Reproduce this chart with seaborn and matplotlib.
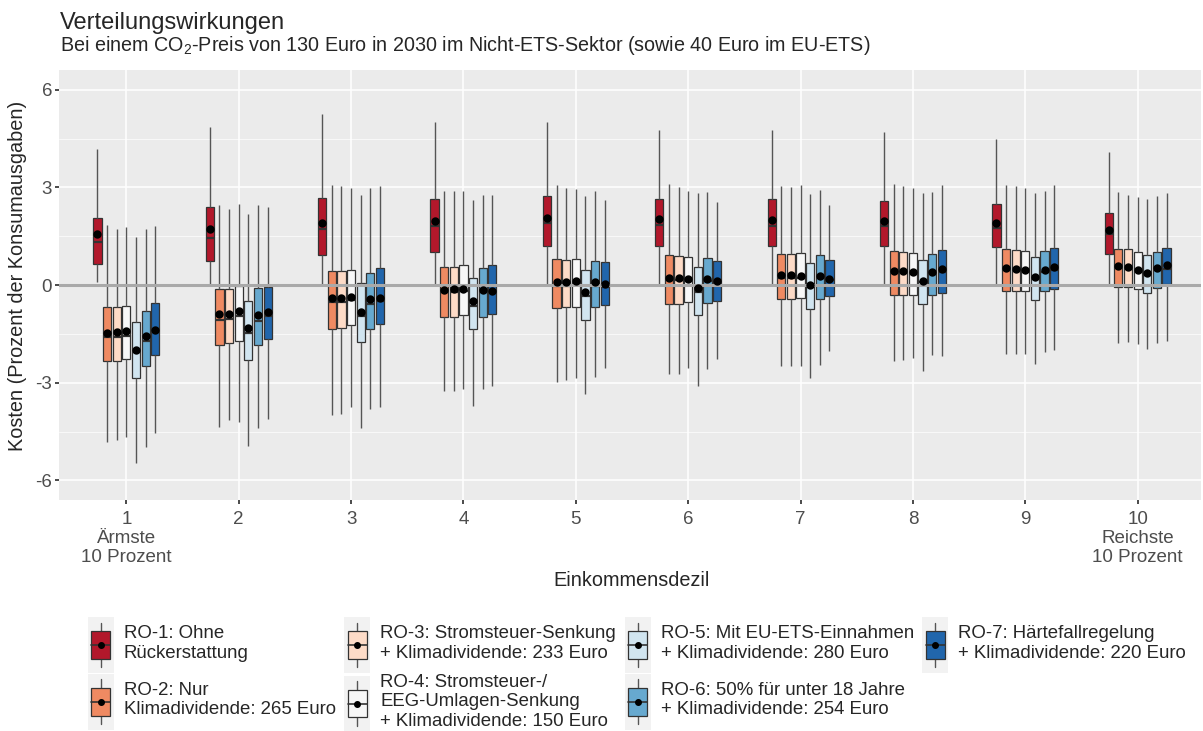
import numpy as np
import pandas as pd
import seaborn as sns
import matplotlib.pyplot as plt
from matplotlib.patches import Rectangle, Patch
from matplotlib.lines import Line2D
from matplotlib.legend_handler import HandlerBase
from matplotlib.ticker import MultipleLocator

# deciles and scenarios
deciles = [str(i) for i in range(1, 11)]
decile_labels = ["1\nÄrmste\n10 Prozent", "2", "3", "4", "5", "6", "7", "8", "9",
                 "10\nReichste\n10 Prozent"]
scenarios = ["RO-1", "RO-2", "RO-3", "RO-4", "RO-5", "RO-6", "RO-7"]
legend_labels = [
    "RO-1: Ohne\nRückerstattung",
    "RO-2: Nur\nKlimadividende: 265 Euro",
    "RO-3: Stromsteuer-Senkung\n+ Klimadividende: 233 Euro",
    "RO-4: Stromsteuer-/\nEEG-Umlagen-Senkung\n+ Klimadividende: 150 Euro",
    "RO-5: Mit EU-ETS-Einnahmen\n+ Klimadividende: 280 Euro",
    "RO-6: 50% für unter 18 Jahre\n+ Klimadividende: 254 Euro",
    "RO-7: Härtefallregelung\n+ Klimadividende: 220 Euro",
]
colors = ["#B2182B", "#EF8A62", "#FDDBC7", "#F7F7F7", "#D1E5F0", "#67A9CF", "#2166AC"]

# box statistics per scenario (rows) and decile (columns)
whisker_high = [
    [4.18, 4.84, 5.25, 5.00, 5.00, 4.77, 4.77, 4.69, 4.50, 4.08],
    [1.84, 2.46, 3.08, 2.90, 3.06, 3.09, 3.03, 3.09, 3.07, 2.86],
    [1.73, 2.35, 3.04, 2.90, 2.99, 3.02, 3.00, 3.03, 3.03, 2.78],
    [1.78, 2.50, 2.98, 2.88, 2.95, 2.88, 3.06, 2.97, 2.97, 2.71],
    [1.48, 2.19, 2.76, 2.61, 2.73, 2.83, 2.81, 2.83, 2.83, 2.63],
    [1.71, 2.46, 2.97, 2.78, 2.88, 2.85, 2.93, 2.87, 2.90, 2.73],
    [1.81, 2.41, 3.05, 2.78, 2.61, 2.56, 2.45, 3.07, 3.06, 2.83],
]
q3 = [
    [2.07, 2.41, 2.66, 2.65, 2.75, 2.65, 2.65, 2.59, 2.50, 2.22],
    [-0.67, -0.11, 0.42, 0.57, 0.80, 0.92, 0.97, 1.05, 1.10, 1.12],
    [-0.67, -0.11, 0.42, 0.57, 0.78, 0.88, 0.95, 1.02, 1.08, 1.10],
    [-0.65, -0.04, 0.46, 0.61, 0.80, 0.86, 0.98, 0.98, 1.06, 1.02],
    [-1.14, -0.50, 0.06, 0.23, 0.47, 0.57, 0.67, 0.77, 0.86, 0.92],
    [-0.80, -0.09, 0.36, 0.52, 0.75, 0.82, 0.92, 0.97, 1.05, 1.03],
    [-0.56, -0.05, 0.52, 0.62, 0.71, 0.75, 0.77, 1.08, 1.14, 1.14],
]
median = [
    [1.31, 1.44, 1.73, 1.81, 1.90, 1.85, 1.81, 1.80, 1.76, 1.56],
    [-1.60, -1.06, -0.53, -0.22, -0.02, 0.15, 0.23, 0.39, 0.45, 0.52],
    [-1.60, -1.04, -0.53, -0.22, -0.02, 0.15, 0.23, 0.39, 0.43, 0.50],
    [-1.55, -0.96, -0.45, -0.17, 0.00, 0.18, 0.23, 0.35, 0.42, 0.42],
    [-2.06, -1.48, -0.94, -0.63, -0.35, -0.22, -0.07, 0.10, 0.18, 0.30],
    [-1.73, -1.09, -0.58, -0.22, -0.02, 0.12, 0.22, 0.33, 0.40, 0.45],
    [-1.45, -0.94, -0.50, -0.22, -0.05, 0.08, 0.15, 0.40, 0.45, 0.50],
]
q1 = [
    [0.66, 0.75, 0.92, 1.03, 1.19, 1.20, 1.19, 1.19, 1.17, 0.97],
    [-2.34, -1.83, -1.35, -0.97, -0.71, -0.58, -0.43, -0.31, -0.18, -0.07],
    [-2.34, -1.78, -1.32, -0.97, -0.68, -0.58, -0.43, -0.31, -0.18, -0.07],
    [-2.26, -1.71, -1.24, -0.92, -0.66, -0.51, -0.41, -0.31, -0.19, -0.12],
    [-2.85, -2.29, -1.74, -1.35, -1.06, -0.91, -0.73, -0.59, -0.45, -0.24],
    [-2.47, -1.83, -1.35, -0.97, -0.68, -0.56, -0.43, -0.29, -0.19, -0.10],
    [-2.16, -1.65, -1.21, -0.89, -0.60, -0.48, -0.35, -0.24, -0.12, 0.03],
]
whisker_low = [
    [0.08, 0.00, 0.02, 0.02, 0.02, 0.02, 0.02, 0.02, 0.02, 0.02],
    [-4.81, -4.36, -4.00, -3.26, -2.98, -2.72, -2.49, -2.34, -2.11, -1.78],
    [-4.77, -4.15, -3.97, -3.24, -2.91, -2.72, -2.47, -2.31, -2.11, -1.76],
    [-4.68, -4.19, -3.75, -3.18, -2.84, -2.56, -2.47, -2.24, -2.11, -1.81],
    [-5.47, -4.93, -4.40, -3.70, -3.33, -3.10, -2.85, -2.64, -2.42, -1.96],
    [-4.98, -4.38, -3.81, -3.20, -2.82, -2.59, -2.45, -2.14, -2.04, -1.78],
    [-4.54, -4.12, -3.75, -3.11, -2.55, -2.26, -2.01, -2.19, -1.99, -1.72],
]
mean = [
    [1.57, 1.72, 1.92, 1.96, 2.06, 2.04, 2.00, 1.98, 1.91, 1.69],
    [-1.47, -0.90, -0.41, -0.14, 0.11, 0.23, 0.31, 0.43, 0.51, 0.59],
    [-1.45, -0.88, -0.41, -0.12, 0.11, 0.21, 0.31, 0.42, 0.49, 0.57],
    [-1.40, -0.81, -0.36, -0.12, 0.12, 0.20, 0.29, 0.39, 0.47, 0.47],
    [-1.99, -1.33, -0.82, -0.50, -0.22, -0.10, 0.00, 0.14, 0.24, 0.37],
    [-1.56, -0.91, -0.42, -0.14, 0.10, 0.20, 0.29, 0.39, 0.47, 0.53],
    [-1.37, -0.84, -0.41, -0.18, 0.04, 0.13, 0.18, 0.49, 0.57, 0.61],
]

# long tables: five values per box give exactly the quartiles with whis=inf
rows = []
mean_rows = []
for s, name in enumerate(scenarios):
    for d, dec in enumerate(deciles):
        for v in (whisker_low[s][d], q1[s][d], median[s][d], q3[s][d], whisker_high[s][d]):
            rows.append({"decile": dec, "scenario": name, "value": v})
        mean_rows.append({"decile": dec, "scenario": name, "mean": mean[s][d]})
df = pd.DataFrame(rows)
df_mean = pd.DataFrame(mean_rows)

sns.set_theme(style="darkgrid", rc={
    "axes.facecolor": "#EBEBEB",
    "grid.color": "white",
    "axes.unicode_minus": False,
    "xtick.bottom": True,
    "ytick.left": True,
    "xtick.major.size": 3,
    "ytick.major.size": 3,
    "xtick.color": "#333333",
    "ytick.color": "#333333",
    "xtick.labelcolor": "#4D4D4D",
    "ytick.labelcolor": "#4D4D4D",
})
plt.rcParams["font.family"] = ["Liberation Sans", "DejaVu Sans"]
plt.rcParams["mathtext.fontset"] = "custom"
plt.rcParams["mathtext.rm"] = "Liberation Sans"
plt.rcParams["mathtext.it"] = "Liberation Sans"

fig = plt.figure(figsize=(12.03, 7.31), dpi=100)
ax = fig.add_axes([0.049, 0.316, 0.949, 0.588])

sns.boxplot(data=df, x="decile", y="value", hue="scenario", order=deciles,
            hue_order=scenarios, palette=colors, saturation=1, width=0.6, gap=0.15,
            whis=np.inf, showcaps=False, linecolor="#333333", linewidth=0.9,
            legend=False, whiskerprops={"color": "#555555", "linewidth": 1.0},
            medianprops={"color": "#333333", "linewidth": 1.6}, ax=ax)

ax.axhline(0, color="#A9A9A9", lw=2.2, zorder=4)

sns.pointplot(data=df_mean, x="decile", y="mean", hue="scenario", order=deciles,
              hue_order=scenarios, palette=["black"] * 7, dodge=0.6 * 6 / 7,
              linestyle="none", markers="o", markersize=4, errorbar=None,
              legend=False, zorder=6, ax=ax)

ax.set_xlim(-0.6, 9.56)
ax.set_ylim(-6.6, 6.6)
ax.set_yticks([-6, -3, 0, 3, 6])
ax.yaxis.set_minor_locator(MultipleLocator(1.5))
ax.grid(which="major", color="white", lw=1.1)
ax.grid(which="minor", axis="y", color="white", lw=0.5)
ax.set_axisbelow(True)
ax.set_xticks(range(10))
ax.set_xticklabels(decile_labels, fontsize=13.5, linespacing=1.15)
ax.tick_params(axis="y", labelsize=13.5, pad=2)
ax.tick_params(axis="x", pad=5)
ax.tick_params(which="minor", length=0)
ax.set_xlabel("")
ax.set_ylabel("")
for sp in ax.spines.values():
    sp.set_visible(False)

fig.text(0.0499, 1 - 29 / 731, "Verteilungswirkungen", fontsize=17, va="baseline")
fig.text(0.0499, 1 - 51 / 731,
         "Bei einem CO$_2$-Preis von 130 Euro in 2030 im Nicht-ETS-Sektor (sowie 40 Euro im EU-ETS)",
         fontsize=14.2, va="baseline")
fig.text(18 / 1203, 1 - 276 / 731, "Kosten (Prozent der Konsumausgaben)", rotation=90,
         fontsize=14.3, ha="center", va="center")
fig.text(0.525, 1 - 580 / 731, "Einkommensdezil", fontsize=14.3, ha="center", va="center")


class BoxKey(HandlerBase):
    def create_artists(self, legend, orig, xd, yd, w, h, fontsize, trans):
        x0, y0 = -xd, -yd
        cx = x0 + w / 2
        bg = Rectangle((x0, y0), w, h, fc="#F2F2F2", ec="none", transform=trans)
        wl = Line2D([cx, cx], [y0 + 0.1 * h, y0 + 0.9 * h], color="#555555", lw=1,
                    transform=trans)
        box = Rectangle((x0 + 0.14 * w, y0 + 0.25 * h), 0.72 * w, 0.5 * h,
                        fc=orig.get_facecolor(), ec="#333333", lw=0.9, transform=trans)
        med = Line2D([x0 + 0.14 * w, x0 + 0.86 * w], [y0 + h / 2] * 2, color="#333333",
                     lw=1.2, transform=trans)
        dot = Line2D([cx], [y0 + h / 2], marker="o", ms=4, color="black", transform=trans)
        return [bg, wl, box, med, dot]


handles = [Patch(facecolor=c) for c in colors]
fig.legend(handles, legend_labels, handler_map={Patch: BoxKey()}, loc="upper center",
           bbox_to_anchor=(0.5295, 1 - 617 / 731), ncol=4, frameon=False, fontsize=13.4,
           handlelength=1.4, handleheight=4.24, labelspacing=0.05, handletextpad=0.54,
           columnspacing=0.45, borderpad=0, borderaxespad=0)

fig.savefig("out.png", dpi=100)
